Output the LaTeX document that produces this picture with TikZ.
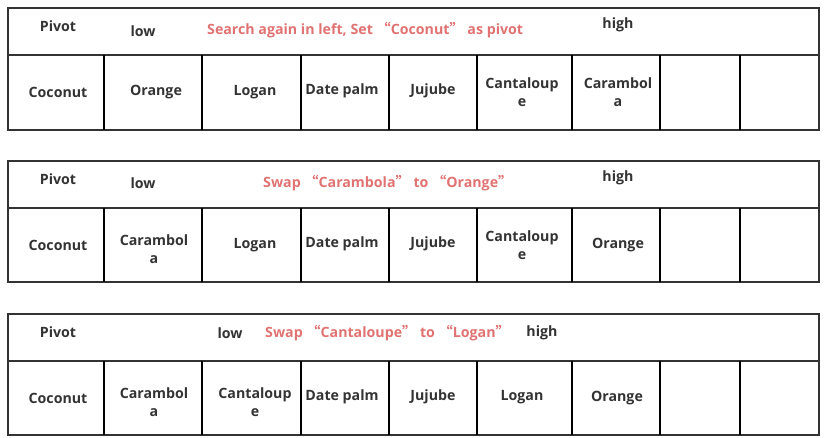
\documentclass[tikz,border=0pt]{standalone}
\usepackage{fontspec}
\setmainfont{Open Sans}
\newfontfamily\cjkfnt{Noto Sans CJK SC}
\newcommand\myoq{{\cjkfnt “}}
\newcommand\mycq{{\cjkfnt ”}}
\definecolor{txtgray}{HTML}{333333}
\definecolor{linegray}{HTML}{333333}
\definecolor{redtxt}{HTML}{E07272}
\begin{document}
\begin{tikzpicture}[x=1pt,y=-1pt,
  txt/.style={font=\bfseries\fontsize{14.2}{17.5}\selectfont, text=txtgray, inner sep=0pt, align=center},
  red/.style={txt, text=redtxt},
  outer/.style={draw=linegray, line width=1.3pt},
  divider/.style={draw=black, line width=2.6pt}]
\useasboundingbox (0,0) rectangle (832,438);
% panel frames
\foreach \t/\m/\b in {8/55/130, 161/208/282, 314/361/435}{
  \draw[outer] (8,\t) rectangle (819,\b);
  \draw[outer] (8,\m) -- (819,\m);
  \foreach \x in {104,202,301,389,477,572,660,740}{
    \draw[divider] (\x,\m) -- (\x,\b);
  }
}
% panel 1
\node[txt] (p1pivot) at (58,26) {Pivot};
\node[txt] (p1low) at (143,31) {low};
\node[red,anchor=west] (p1msg) at (207,30) {Search again in left, Set \myoq Coconut\mycq\ as pivot};
\node[txt] (p1high) at (618,25) {high};
\node[txt] (p1c1) at (58,92) {Coconut};
\node[txt] (p1c2) at (156,92) {Orange};
\node[txt] (p1c3) at (255,92) {Logan};
\node[txt] (p1c4) at (342,91) {Date palm};
\node[txt] (p1c5) at (433,91) {Jujube};
\node[txt] (p1c6) at (522,92) {Cantaloup\\e};
\node[txt] (p1c7) at (618,92) {Carambol\\a};
% panel 2
\node[txt] (p2pivot) at (58,179) {Pivot};
\node[txt] (p2low) at (143,183) {low};
\node[red,anchor=west] (p2msg) at (263,183) {Swap \myoq Carambola\mycq\ to \myoq Orange\mycq};
\node[txt] (p2high) at (618,178) {high};
\node[txt] (p2c1) at (58,245) {Coconut};
\node[txt] (p2c2) at (154,249) {Carambol\\a};
\node[txt] (p2c3) at (255,245) {Logan};
\node[txt] (p2c4) at (342,244) {Date palm};
\node[txt] (p2c5) at (433,244) {Jujube};
\node[txt] (p2c6) at (522,245) {Cantaloup\\e};
\node[txt] (p2c7) at (618,245) {Orange};
% panel 3
\node[txt] (p3pivot) at (58,332) {Pivot};
\node[txt] (p3low) at (230,333) {low};
\node[red,anchor=west] (p3msg) at (265,333) {Swap \myoq Cantaloupe\mycq\ to \myoq Logan\mycq};
\node[txt] (p3high) at (542,333) {high};
\node[txt] (p3c1) at (58,398) {Coconut};
\node[txt] (p3c2) at (154,402) {Carambol\\a};
\node[txt] (p3c3) at (255,402) {Cantaloup\\e};
\node[txt] (p3c4) at (342,397) {Date palm};
\node[txt] (p3c5) at (433,397) {Jujube};
\node[txt] (p3c6) at (522,397) {Logan};
\node[txt] (p3c7) at (617,398) {Orange};
\end{tikzpicture}
\end{document}
